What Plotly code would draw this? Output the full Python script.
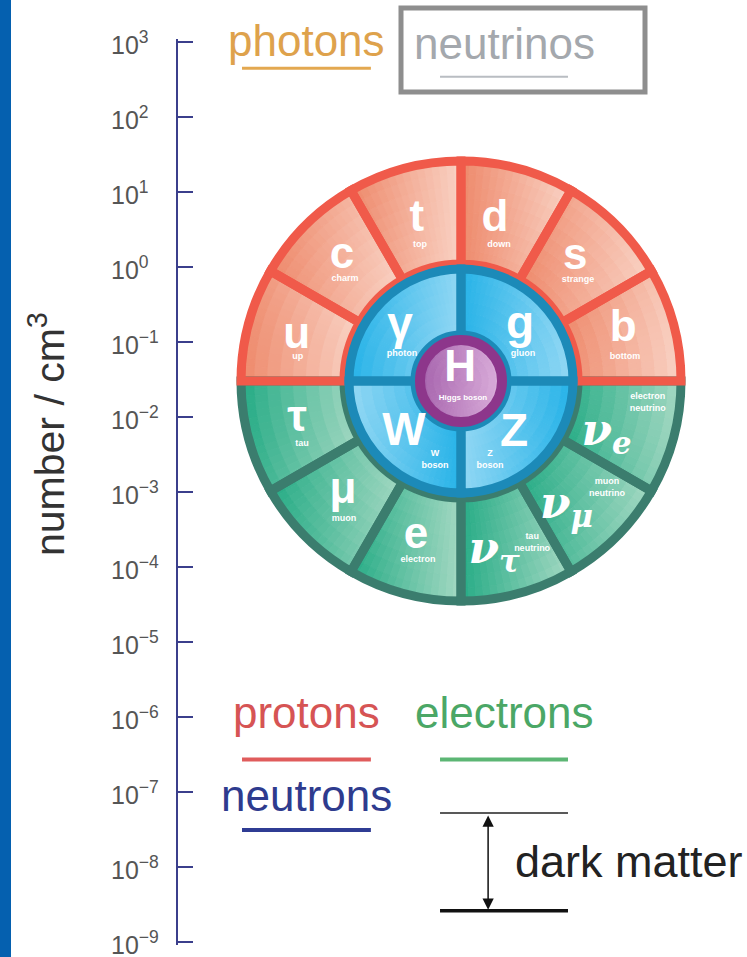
import numpy as np
import plotly.graph_objects as go


# ---- DATA ----

# number densities (number / cm^3)
species = ['photons', 'neutrinos', 'protons', 'electrons', 'neutrons']
density = [440, 340, 2.7e-7, 2.7e-7, 3.1e-8]
dark_matter = [5.2e-8, 2.6e-9]      # upper / lower bound

tick_vals = [1e3, 1e2, 1e1, 1e0, 1e-1, 1e-2, 1e-3, 1e-4, 1e-5, 1e-6, 1e-7, 1e-8, 1e-9]
tick_text = ['10<sup>3</sup>', '10<sup>2</sup>', '10<sup>1</sup>', '10<sup>0</sup>',
             '10<sup>−1</sup>', '10<sup>−2</sup>', '10<sup>−3</sup>', '10<sup>−4</sup>',
             '10<sup>−5</sup>', '10<sup>−6</sup>', '10<sup>−7</sup>', '10<sup>−8</sup>',
             '10<sup>−9</sup>']

# standard model wheel
quarks = ['u', 'c', 't', 'd', 's', 'b']
quark_names = ['up', 'charm', 'top', 'down', 'strange', 'bottom']
leptons = ['τ', 'μ', 'e']
lepton_names = ['tau', 'muon', 'electron']
neutrinos = ['ν<sub>τ</sub>', 'ν<sub>μ</sub>', 'ν<sub>e</sub>']
neutrino_names = ['tau<br>neutrino', 'muon<br>neutrino', 'electron<br>neutrino']
bosons = ['γ', 'g', 'W', 'Z']
boson_names = ['photon', 'gluon', 'W<br>boson', 'Z<br>boson']


# ---- STYLE / LAYOUT ----

W, H = 747, 957
FONT = 'Liberation Sans, Arial, sans-serif'

text_colors = ['#dea24c', '#a4a8ad', '#d65454', '#4ba766', '#2e3b8e']
line_colors = ['#e3a850', '#b9bdc2', '#e05c5c', '#5cb674', '#2f3c94']
line_widths = [3, 2, 4, 4, 4]
# column of each species (x-axis units, 0..1) and label lift in px
cols = [(0.1125, 0.339), (0.4605, 0.6854), (0.1125, 0.339), (0.4605, 0.6854), (0.1125, 0.339)]
lift = [28, 33, 47, 47, 34]

# wheel geometry (radial unit = 1 px)
R_OUT, R_IN, R_MID, R_H = 220, 117, 112, 46
quark_theta = [165, 135, 105, 75, 45, 15]
lepton_theta = [195, 225, 255, 285, 315, 345]
boson_theta = [135, 45, 225, 315]

quark_sym_pos = ([170, 172, 167, 165, 168, 170], [165, 133.8, 105.3, 78.1, 47.2, 17.5])
quark_name_pos = ([165, 154.5, 142, 141, 154.6, 165.7], [171.6, 138.7, 106.8, 74.4, 40.8, 8.3])
lepton_sym_pos = ([168.6, 162, 162.4], [193.4, 223.2, 253.9])
lepton_name_pos = ([171, 181, 184], [201.6, 229.7, 256.5])
nu_sym_pos = ([174, 164, 155], [281, 310, 340])
nu_name_pos = ([177, 181, 188], [293.7, 323.8, 353.3])
boson_sym_pos = ([81.5, 80, 77.8, 75.7], [138.5, 42.5, 222.9, 314.5])
boson_name_pos = ([64.9, 67.6, 83.2, 84.2], [155.4, 23.5, 251.8, 290.2])

# left -> right shading of the wheel pieces
QUARK_SHADE = ('#ee8a6c', '#f9d2c4')
LEPTON_SHADE = ('#27ac86', '#a3d8c2')
BOSON_SHADE = [('#27b3e8', '#93d8f4'), ('#27b3e8', '#93d8f4'),
               ('#93d8f4', '#27b3e8'), ('#93d8f4', '#27b3e8')]
HIGGS_SHADE = ('#a663ad', '#dcb0dc')


def mix(c1, c2, t):
    a = np.array([int(c1[i:i + 2], 16) for i in (1, 3, 5)], dtype=float)
    b = np.array([int(c2[i:i + 2], 16) for i in (1, 3, 5)], dtype=float)
    c = np.round(a + (b - a) * min(max(t, 0), 1))
    return 'rgb(%d,%d,%d)' % tuple(c)


def shaded_wedges(thetas, width, r0, r1, shades, na, nr):
    """Split each wedge in small polar cells so it gets a horizontal gradient."""
    th, rr, base, colors = [], [], [], []
    dt, dr = width / na, (r1 - r0) / nr
    for tc, (cl, cr) in zip(thetas, shades):
        a = np.radians(np.linspace(tc - width / 2, tc + width / 2, 91))
        xs = np.concatenate([r0 * np.cos(a), r1 * np.cos(a)])
        xmin, xmax = xs.min(), xs.max()
        for i in range(na):
            t_c = tc - width / 2 + (i + 0.5) * dt
            for j in range(nr):
                rb = r0 + j * dr
                xc = (rb + dr / 2) * np.cos(np.radians(t_c))
                th.append(t_c)
                base.append(rb)
                rr.append(dr)
                colors.append(mix(cl, cr, (xc - xmin) / (xmax - xmin)))
    return go.Barpolar(theta=th, r=rr, base=base, width=dt,
                       marker=dict(color=colors, line=dict(color=colors, width=1)),
                       hoverinfo='skip', showlegend=False)


def outline(thetas, width, r0, r1, color, lw):
    return go.Barpolar(theta=thetas, r=[r1 - r0] * len(thetas), base=r0, width=width,
                       marker=dict(color='rgba(0,0,0,0)', line=dict(color=color, width=lw)),
                       hoverinfo='skip', showlegend=False)


fig = go.Figure()

# ---- CARTESIAN PART: density levels ----
for i, name in enumerate(species):
    fig.add_trace(go.Scatter(
        x=list(cols[i]), y=[density[i], density[i]], mode='lines',
        line=dict(color=line_colors[i], width=line_widths[i]),
        hoverinfo='skip', showlegend=False))

dm_x = cols[3]
fig.add_trace(go.Scatter(x=list(dm_x), y=[dark_matter[0]] * 2, mode='lines',
                         line=dict(color='#222222', width=1.5), showlegend=False, hoverinfo='skip'))
fig.add_trace(go.Scatter(x=list(dm_x), y=[dark_matter[1]] * 2, mode='lines',
                         line=dict(color='#111111', width=3.5), showlegend=False, hoverinfo='skip'))

annotations = []
for i, name in enumerate(species):
    annotations.append(dict(
        x=sum(cols[i]) / 2, y=np.log10(density[i]), xref='x', yref='y',
        text=name, showarrow=False, yshift=lift[i], xanchor='center', yanchor='middle',
        font=dict(family=FONT, size=44, color=text_colors[i])))

# dark matter arrow + label
arrow_x = 0.545
annotations.append(dict(
    x=arrow_x, y=np.log10(dark_matter[1]), ax=arrow_x, ay=np.log10(dark_matter[0]),
    xref='x', yref='y', axref='x', ayref='y', text='', showarrow=True,
    arrowhead=2, arrowside='end+start', arrowsize=1.5, arrowwidth=1.5,
    arrowcolor='#111111', standoff=1, startstandoff=1))
annotations.append(dict(
    x=0.589, y=np.mean(np.log10(dark_matter)), xref='x', yref='y',
    text='dark matter', showarrow=False, xanchor='left', yanchor='middle',
    font=dict(family=FONT, size=45, color='#222222')))

# tick labels, left aligned like the original figure
for v, t in zip(tick_vals, tick_text):
    annotations.append(dict(
        x=109 / W, y=np.log10(v), xref='paper', yref='y', text=t, showarrow=False,
        xanchor='left', yanchor='middle', yshift=-1,
        font=dict(family=FONT, size=25, color='#555555')))

# axis title
annotations.append(dict(
    x=47 / W, y=1 - 434 / H, xref='paper', yref='paper', text='number / cm<sup>3</sup>',
    textangle=-90, showarrow=False, xanchor='center', yanchor='middle',
    font=dict(family=FONT, size=41, color='#333333')))


# ---- POLAR PART: standard model wheel ----
fig.add_trace(shaded_wedges(lepton_theta, 30, R_IN, R_OUT, [LEPTON_SHADE] * 6, 15, 8))
fig.add_trace(shaded_wedges(quark_theta, 30, R_IN, R_OUT, [QUARK_SHADE] * 6, 15, 8))
fig.add_trace(shaded_wedges(boson_theta, 90, R_H, R_MID, BOSON_SHADE, 30, 6))
fig.add_trace(shaded_wedges([180], 360, 0, 42, [HIGGS_SHADE], 60, 6))
fig.add_trace(outline(lepton_theta, 30, R_IN, R_OUT, '#3b7d6e', 9))
fig.add_trace(outline(quark_theta, 30, R_IN, R_OUT, '#f05a4a', 9))
fig.add_trace(outline(boson_theta, 90, R_H, R_MID, '#1c8ab8', 9))
fig.add_trace(go.Scatterpolar(
    r=[0], theta=[0], mode='markers',
    marker=dict(size=82, color='rgba(0,0,0,0)', line=dict(color='#8d368b', width=10)),
    hoverinfo='skip', showlegend=False))


def wheel_text(pos, labels, size, family=FONT, bold=True):
    txt = [f'<b>{s}</b>' if bold else s for s in labels]
    fig.add_trace(go.Scatterpolar(
        r=pos[0], theta=pos[1], mode='text', text=txt, textposition='middle center',
        textfont=dict(family=family, size=size, color='white'),
        cliponaxis=False, hoverinfo='skip', showlegend=False))


wheel_text(quark_sym_pos, quarks, 44)
wheel_text(quark_name_pos, quark_names, 9)
wheel_text(lepton_sym_pos, leptons, 44)
wheel_text(lepton_name_pos, lepton_names, 9)
wheel_text(nu_sym_pos, [f'<i>{s}</i>' for s in neutrinos], 44, family='DejaVu Serif, serif')
wheel_text(nu_name_pos, neutrino_names, 9)
wheel_text(boson_sym_pos, bosons, 46)
wheel_text(boson_name_pos, boson_names, 9)
wheel_text(([11], [95]), ['H'], 44)
wheel_text(([17.1], [276.7]), ['Higgs boson'], 8)


# ---- LAYOUT ----
# a little padding past the end decades so the end ticks are drawn
pad = 0.04
px_per_decade = (941.8 - 41.6) / 12
cx, cy, rad = 461, 381, 230
fig.update_layout(
    width=W, height=H, margin=dict(l=0, r=0, t=0, b=0),
    paper_bgcolor='white', plot_bgcolor='rgba(0,0,0,0)',
    showlegend=False, annotations=annotations,
    xaxis=dict(domain=[178 / W, 1], range=[0, 1], visible=False),
    yaxis=dict(
        type='log', range=[-9 - pad, 3 + pad],
        domain=[1 - (941.8 + pad * px_per_decade) / H, 1 - (41.6 - pad * px_per_decade) / H],
        tickvals=tick_vals, showticklabels=False, ticks='inside', ticklen=15,
        tickwidth=1.5, tickcolor='#3b3f8c', showline=True, linecolor='#3b3f8c',
        linewidth=1.5, showgrid=False, zeroline=False, automargin=False),
    polar=dict(
        domain=dict(x=[(cx - rad) / W, (cx + rad) / W], y=[1 - (cy + rad) / H, 1 - (cy - rad) / H]),
        bgcolor='rgba(0,0,0,0)', barmode='overlay', bargap=0, hole=0,
        radialaxis=dict(range=[0, rad], visible=False),
        angularaxis=dict(visible=False, rotation=0, direction='counterclockwise')),
    shapes=[
        dict(type='rect', xref='paper', yref='paper', x0=0, x1=11 / W, y0=0, y1=1,
             fillcolor='#0560af', line=dict(width=0)),
        dict(type='rect', xref='paper', yref='paper', x0=401 / W, x1=645 / W,
             y0=1 - 92 / H, y1=1 - 8 / H, line=dict(color='#8e8e8e', width=5)),
    ],
)

fig.write_html('out.html', config={'displayModeBar': False},
               post_script="document.body.style.margin='0';document.body.style.overflow='hidden';")
